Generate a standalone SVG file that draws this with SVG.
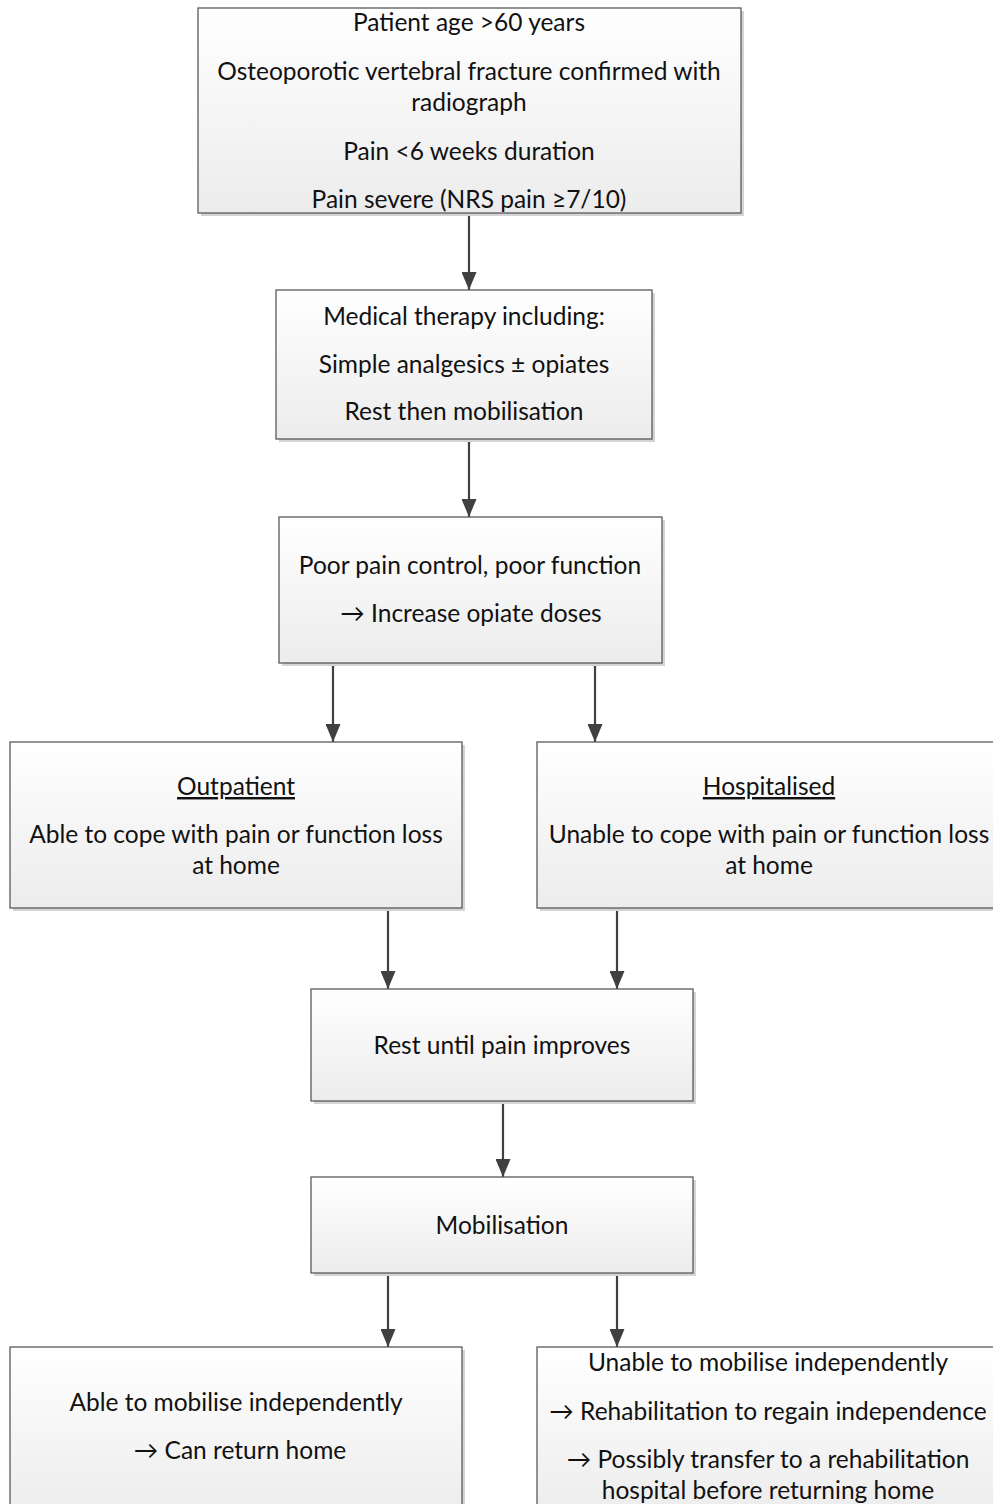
<svg xmlns="http://www.w3.org/2000/svg" width="993" height="1504" viewBox="0 0 993 1504">
<defs>
<linearGradient id="g" x1="0" y1="0" x2="0" y2="1">
<stop offset="0" stop-color="#ffffff"/>
<stop offset="1" stop-color="#ececec"/>
</linearGradient>
<marker id="ah" markerWidth="18" markerHeight="15" refX="18" refY="7.5" orient="auto" markerUnits="userSpaceOnUse" viewBox="0 0 18 15">
<path d="M0,0 L18,7.5 L0,15 Z" fill="#404040"/>
</marker>
</defs>
<style>
.box{fill:url(#g);stroke:#5a5a5a;stroke-width:1.3}
.sh{fill:#d4d4d4}
text{font-family:Lato,"Open Sans","Liberation Sans",sans-serif;font-size:24.5px;fill:#111;text-anchor:middle}
.u{text-decoration:underline}
.c line{stroke:#404040;stroke-width:2.2}
</style>
<rect width="993" height="1504" fill="#ffffff"/>
<g class="c">
<line x1="469" y1="213" x2="469" y2="290" marker-end="url(#ah)"/>
<line x1="469" y1="439" x2="469" y2="517" marker-end="url(#ah)"/>
<line x1="333" y1="663" x2="333" y2="742" marker-end="url(#ah)"/>
<line x1="595" y1="663" x2="595" y2="742" marker-end="url(#ah)"/>
<line x1="388" y1="908" x2="388" y2="989" marker-end="url(#ah)"/>
<line x1="617" y1="908" x2="617" y2="989" marker-end="url(#ah)"/>
<line x1="503" y1="1101" x2="503" y2="1177" marker-end="url(#ah)"/>
<line x1="388" y1="1273" x2="388" y2="1347" marker-end="url(#ah)"/>
<line x1="617" y1="1273" x2="617" y2="1347" marker-end="url(#ah)"/>
</g>
<g id="n1">
<rect class="sh" x="201" y="11" width="543" height="205"/>
<rect class="box" x="198" y="8" width="543" height="205"/>
<text x="469" y="31">Patient age &gt;60 years</text>
<text x="469" y="80">Osteoporotic vertebral fracture confirmed with</text>
<text x="469" y="111">radiograph</text>
<text x="469" y="160">Pain &lt;6 weeks duration</text>
<text x="469" y="208">Pain severe (NRS pain ≥7/10)</text>
</g>
<g id="n2">
<rect class="sh" x="279" y="293" width="376" height="149"/>
<rect class="box" x="276" y="290" width="376" height="149"/>
<text x="464" y="325">Medical therapy including:</text>
<text x="464" y="373">Simple analgesics ± opiates</text>
<text x="464" y="420">Rest then mobilisation</text>
</g>
<g id="n3">
<rect class="sh" x="282" y="520" width="383" height="146"/>
<rect class="box" x="279" y="517" width="383" height="146"/>
<text x="470" y="574">Poor pain control, poor function</text>
<text x="471" y="622">→ Increase opiate doses</text>
</g>
<g id="n4">
<rect class="sh" x="13" y="745" width="452" height="166"/>
<rect class="box" x="10" y="742" width="452" height="166"/>
<text x="236" y="795" class="u">Outpatient</text>
<text x="236" y="843">Able to cope with pain or function loss</text>
<text x="236" y="874">at home</text>
</g>
<g id="n5">
<rect class="sh" x="540" y="745" width="460" height="166"/>
<rect class="box" x="537" y="742" width="460" height="166"/>
<text x="769" y="795" class="u">Hospitalised</text>
<text x="769" y="843">Unable to cope with pain or function loss</text>
<text x="769" y="874">at home</text>
</g>
<g id="n6">
<rect class="sh" x="314" y="992" width="382" height="112"/>
<rect class="box" x="311" y="989" width="382" height="112"/>
<text x="502" y="1054">Rest until pain improves</text>
</g>
<g id="n7">
<rect class="sh" x="314" y="1180" width="382" height="96"/>
<rect class="box" x="311" y="1177" width="382" height="96"/>
<text x="502" y="1234">Mobilisation</text>
</g>
<g id="n8">
<rect class="sh" x="13" y="1350" width="452" height="170"/>
<rect class="box" x="10" y="1347" width="452" height="170"/>
<text x="236" y="1411">Able to mobilise independently</text>
<text x="240" y="1459">→ Can return home</text>
</g>
<g id="n9">
<rect class="sh" x="540" y="1350" width="460" height="170"/>
<rect class="box" x="537" y="1347" width="460" height="170"/>
<text x="768" y="1371">Unable to mobilise independently</text>
<text x="768" y="1420">→ Rehabilitation to regain independence</text>
<text x="768" y="1468">→ Possibly transfer to a rehabilitation</text>
<text x="768" y="1499">hospital before returning home</text>
</g>
</svg>
